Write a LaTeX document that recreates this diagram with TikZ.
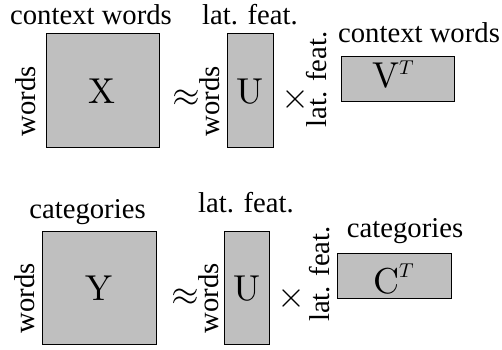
\documentclass[tikz,border=0pt]{standalone}
\usepackage{fontspec}
\setmainfont{Liberation Serif}
\newfontfamily\lmm{latinmodern-math.otf}
\newcommand{\suptee}[1]{\raisebox{#1}{\fontsize{20}{24}\selectfont 𝑇}}
\begin{document}
\begin{tikzpicture}[x=1pt,y=-1pt,
  mat/.style={draw=black, fill=black!25, line width=0.9pt, inner sep=0pt},
  lbl/.style={font=\fontsize{28.7}{34}\selectfont, inner sep=0pt},
  toplbl/.style={lbl, anchor=base},
  side/.style={lbl, rotate=90, anchor=center},
  letter/.style={font=\lmm\fontsize{36}{42}\selectfont, inner sep=0pt, anchor=base},
  op/.style={font=\lmm\fontsize{36}{42}\selectfont, inner sep=0pt}]
\useasboundingbox (0,0) rectangle (502,349);

% ---- first factorisation: X ~ U x V^T ----
\node[mat, minimum width=113pt, minimum height=114pt] (X) at (102.5,90) {};
\node[mat, minimum width=46pt,  minimum height=114pt] (U1) at (250,90) {};
\node[mat, minimum width=113pt, minimum height=45pt]  (V) at (397.5,78.5) {};

\node[letter] (Xl) at (102,103) {X};
\node[letter] (U1l) at (250,103) {U};
\node[letter] (Vl) at (392,87) {V\suptee{13pt}};

\node[toplbl] (Xtop) at (91,24) {context words};
\node[toplbl] (U1top) at (250,24) {lat. feat.};
\node[toplbl] (Vtop) at (419,42) {context words};

\node[side] (Xside) at (25.5,101) {words};
\node[side] (U1side) at (210,101) {words};
\node[side] (Vside) at (317,79.5) {lat. feat.};

\node[op] (approx1) at (186.5,98) {≈};
\node[op] (times1) at (295.5,100) {×};

% ---- second factorisation: Y ~ U x C^T ----
\node[mat, minimum width=114pt, minimum height=113pt] (Y) at (99,287.5) {};
\node[mat, minimum width=45pt,  minimum height=113pt] (U2) at (246.5,287.5) {};
\node[mat, minimum width=114pt, minimum height=45pt]  (C) at (394,275.5) {};

\node[letter] (Yl) at (99,300) {Y};
\node[letter] (U2l) at (246.5,300) {U};
\node[letter] (Cl) at (392,293) {C\suptee{16pt}};

\node[toplbl] (Ytop) at (87.5,218) {categories};
\node[toplbl] (U2top) at (246,212) {lat. feat.};
\node[toplbl] (Ctop) at (405,237) {categories};

\node[side] (Yside) at (24.5,298.5) {words};
\node[side] (U2side) at (208.5,298.5) {words};
\node[side] (Cside) at (319.5,274) {lat. feat.};

\node[op] (approx2) at (185.5,297) {≈};
\node[op] (times2) at (291,299) {×};
\end{tikzpicture}
\end{document}
